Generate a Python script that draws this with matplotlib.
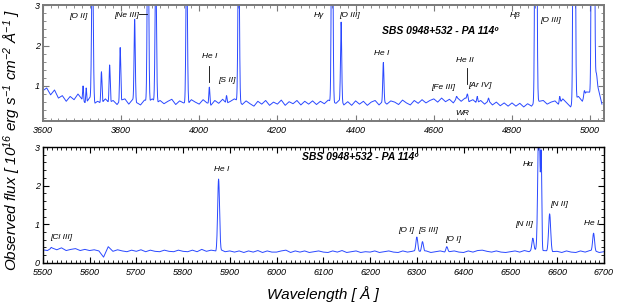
import numpy as np
import matplotlib
matplotlib.use('Agg')
import matplotlib.pyplot as plt
from matplotlib.ticker import MultipleLocator

plt.rcParams['font.family'] = ['Liberation Sans', 'DejaVu Sans']
plt.rcParams['font.style'] = 'italic'
plt.rcParams['mathtext.fontset'] = 'custom'
plt.rcParams['mathtext.rm'] = 'Liberation Sans:italic'
plt.rcParams['mathtext.it'] = 'Liberation Sans:italic'
plt.rcParams['mathtext.default'] = 'rm'

# blue part: continuum read every 10 A (3600 .. 5030)
blue_wl = np.arange(3600, 5031, 10)
blue_cont = [0.88, 0.95, 0.78, 0.9, 0.7, 0.76, 0.62, 0.74, 0.66, 0.8,
             0.66, 0.55, 0.7, 0.52, 0.62, 0.55, 0.68, 0.56, 0.64, 0.54,
             0.62, 0.68, 0.55, 0.66, 0.58, 0.53, 0.65, 0.57, 0.68, 0.55,
             0.64, 0.56, 0.62, 0.67, 0.54, 0.63, 0.58, 0.52, 0.66, 0.6,
             0.55, 0.66, 0.58, 0.52, 0.64, 0.57, 0.67, 0.55, 0.62, 0.68,
             0.6, 0.54, 0.63, 0.56, 0.5, 0.62, 0.55, 0.64, 0.52, 0.6,
             0.55, 0.65, 0.52, 0.61, 0.56, 0.64, 0.53, 0.62, 0.55, 0.63,
             0.54, 0.62, 0.56, 0.65, 0.58, 0.57, 0.64, 0.53, 0.61, 0.52,
             0.63, 0.55, 0.62, 0.52, 0.6, 0.64, 0.53, 0.61, 0.55, 0.63,
             0.6, 0.54, 0.65, 0.58, 0.53, 0.64, 0.57, 0.66, 0.58, 0.64,
             0.68, 0.6, 0.7, 0.61, 0.67, 0.58, 0.69, 0.62, 0.7, 0.6,
             0.66, 0.56, 0.64, 0.55, 0.62, 0.53, 0.6, 0.51, 0.58, 0.5,
             0.58, 0.5, 0.57, 0.48, 0.56, 0.5, 0.6, 0.62, 0.64, 0.55,
             0.6, 0.63, 0.52, 0.68, 0.58, 0.48, 0.64, 0.74, 0.62, 0.85,
             0.82, 1.2, 0.95, 0.55]

# emission lines: centre, peak flux, sigma
blue_lines = [(3703, 1.0, 1.2), (3711, 0.95, 1.2), (3727, 4.5, 2.0),
              (3750, 1.35, 1.4), (3771, 1.52, 1.4), (3798, 1.95, 1.4),
              (3835, 2.65, 1.5), (3869, 6.0, 1.8), (3889, 4.0, 1.8),
              (3968, 4.5, 1.8), (4026, 0.97, 1.3), (4070, 0.76, 1.3),
              (4101, 5.0, 1.8), (4340, 8.0, 1.8), (4363, 2.58, 1.5),
              (4471, 1.58, 1.5), (4658, 0.74, 1.5), (4686, 0.8, 1.8),
              (4711, 0.74, 1.5), (4740, 0.7, 1.5), (4861, 15.0, 2.0),
              (4922, 0.74, 1.5), (4959, 20.0, 2.0), (4985, 0.88, 1.5),
              (5007, 40.0, 2.2), (5016, 1.3, 1.8)]

# red part: continuum read every 10 A (5500 .. 6700)
red_wl = np.arange(5500, 6701, 10)
red_cont = [0.34, 0.32, 0.37, 0.34, 0.39, 0.32, 0.35, 0.37, 0.32, 0.35,
            0.32, 0.34, 0.31, 0.15, 0.42, 0.3, 0.34, 0.31, 0.29, 0.33,
            0.3, 0.34, 0.29, 0.33, 0.3, 0.29, 0.33, 0.3, 0.29, 0.33,
            0.3, 0.29, 0.33, 0.29, 0.35, 0.3, 0.33, 0.29, 0.32, 0.29,
            0.31, 0.28, 0.31, 0.27, 0.31, 0.28, 0.32, 0.27, 0.31, 0.28,
            0.28, 0.31, 0.33, 0.27, 0.31, 0.28, 0.31, 0.27, 0.29, 0.31,
            0.28, 0.27, 0.31, 0.28, 0.32, 0.27, 0.29, 0.31, 0.27, 0.29,
            0.28, 0.31, 0.27, 0.29, 0.31, 0.28, 0.27, 0.31, 0.28, 0.3,
            0.3, 0.28, 0.31, 0.27, 0.29, 0.31, 0.27, 0.29, 0.31, 0.28,
            0.27, 0.31, 0.28, 0.32, 0.33, 0.3, 0.28, 0.31, 0.28, 0.27,
            0.29, 0.31, 0.28, 0.32, 0.29, 0.33, 0.34, 0.31, 0.3, 0.28,
            0.3, 0.27, 0.31, 0.28, 0.27, 0.31, 0.28, 0.32, 0.3, 0.27,
            0.29]

red_lines = [(5518, 0.4, 1.5), (5538, 0.38, 1.5), (5876, 2.17, 2.0),
             (6300, 0.67, 2.0), (6312, 0.55, 2.0), (6364, 0.42, 2.0),
             (6548, 0.64, 2.0), (6561, 4.0, 2.2), (6566, 2.65, 1.2),
             (6584, 1.27, 2.2), (6678, 0.77, 2.0)]

title = 'SBS 0948+532 - PA 114º'

blue_labels = [('[O II]', 3690, 2.72), ('[Ne III]', 3815, 2.75),
               ('He I', 4026, 1.72), ('[S II]', 4070, 1.13),
               ('Hγ', 4305, 2.75), ('[O III]', 4385, 2.75),
               ('He I', 4467, 1.8), ('[Fe III]', 4625, 0.97),
               ('He II', 4679, 1.62), ('[Ar IV]', 4719, 1.0),
               ('WR', 4672, 0.33), ('Hβ', 4809, 2.75), ('[O III]', 4899, 2.62)]

red_labels = [('[Cl III]', 5540, 0.65), ('He I', 5883, 2.43),
              ('[O I]', 6278, 0.85), ('[S III]', 6323, 0.85),
              ('[O I]', 6377, 0.6), ('[N II]', 6529, 1.0),
              ('Hα', 6538, 2.55), ('[N II]', 6604, 1.52), ('He I', 6674, 1.03)]


def spectrum(wl, cont, lines):
    grid = np.arange(wl[0], wl[-1] + 0.5, 0.5)
    base = np.interp(grid, wl, cont)
    flux = base.copy()
    for c, peak, s in lines:
        amp = peak - np.interp(c, wl, cont)
        flux += amp * np.exp(-0.5 * ((grid - c) / s) ** 2)
    keep = np.isin(grid, wl) | (np.abs(flux - base) > 0.01)
    return grid[keep], flux[keep]


def style(ax, major, minor, spine_col, lw):
    ax.xaxis.set_major_locator(MultipleLocator(major))
    ax.xaxis.set_minor_locator(MultipleLocator(minor))
    ax.yaxis.set_major_locator(MultipleLocator(1))
    ax.yaxis.set_minor_locator(MultipleLocator(0.2))
    ax.tick_params(which='both', direction='in', top=True, right=True,
                   labelsize=6.5, color=spine_col)
    ax.tick_params(axis='x', pad=3.5)
    ax.tick_params(axis='y', pad=2)
    ax.tick_params(which='major', length=4, width=0.8)
    ax.tick_params(which='minor', length=2, width=0.6)
    for sp in ax.spines.values():
        sp.set_color(spine_col)
        sp.set_linewidth(lw)


fig = plt.figure(figsize=(6.2, 3.05), dpi=100)
ax1 = fig.add_axes([0.069, 0.603, 0.905, 0.380])
ax2 = fig.add_axes([0.069, 0.138, 0.905, 0.380])

blue = '#2a48ff'
x, y = spectrum(blue_wl, blue_cont, blue_lines)
ax1.plot(x, y, color=blue, lw=0.7)
ax1.set_xlim(3600, 5035)
ax1.set_ylim(0.13, 3)
style(ax1, 200, 20, '#7a7a7a', 1.4)
ax1.set_yticks([1, 2, 3])

x, y = spectrum(red_wl, red_cont, red_lines)
ax2.plot(x, y, color=blue, lw=0.7)
ax2.set_xlim(5500, 6700)
ax2.set_ylim(0, 3)
style(ax2, 100, 10, 'black', 1.0)

for t, xx, yy in blue_labels:
    ax1.text(xx, yy, t, fontsize=6, ha='center', va='center')
for t, xx, yy in red_labels:
    ax2.text(xx, yy, t, fontsize=6, ha='center', va='center', clip_on=False)

# marker strokes next to some labels
ax1.plot([3845, 3866], [2.77, 2.77], color='black', lw=0.6)
ax1.plot([4026, 4026], [1.5, 1.1], color='black', lw=0.6)
ax1.plot([4686, 4686], [1.45, 1.05], color='black', lw=0.6)

ax1.text(4615, 2.35, title, fontsize=7.5, fontweight='bold', ha='center', va='center')
ax2.text(6178, 2.74, title, fontsize=7.5, fontweight='bold', ha='center', va='center')

fig.text(0.02, 0.54, r'Observed flux [ 10$^{16}$ erg s$^{-1}$ cm$^{-2}$ Å$^{-1}$ ]',
         rotation=90, fontsize=11, ha='center', va='center')
fig.text(0.52, 0.035, 'Wavelength [ Å ]', fontsize=11, ha='center', va='center')

fig.savefig('out.png', dpi=100)
